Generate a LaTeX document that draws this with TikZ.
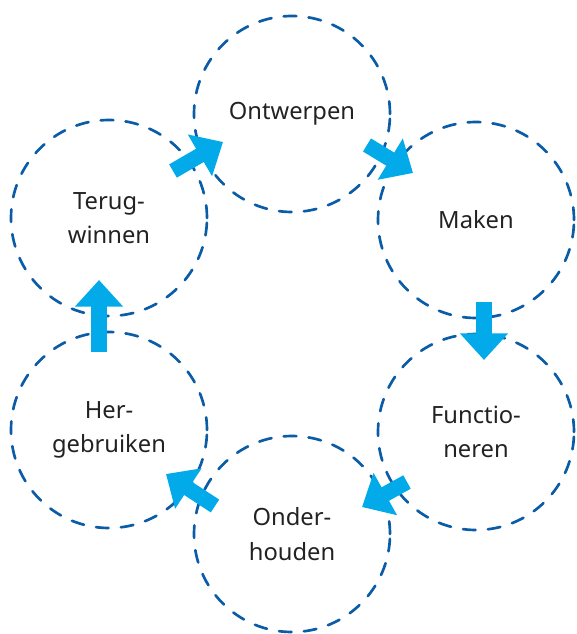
\documentclass[tikz,border=0pt]{standalone}
\usepackage{fontspec}
\setmainfont{Noto Sans}
\usetikzlibrary{arrows.meta,calc}
\definecolor{ringblue}{HTML}{0B5CA6}
\definecolor{flowcyan}{HTML}{02AAE9}
\definecolor{txtgray}{HTML}{222222}
\begin{document}
\begin{tikzpicture}[x=0.75pt,y=-0.75pt,
		stage/.style={circle,draw=ringblue,line width=2pt,line cap=round,
			dash pattern=on 9.5pt off 9.2pt,minimum size=147pt,inner sep=0pt,
			align=center,text=txtgray,font=\fontsize{17.8}{26}\selectfont},
		flow/.style={flowcyan,line width=11.5pt,
			-{Triangle[length=20pt,width=35pt]}}]
	\useasboundingbox (0,0) rectangle (577,634);
	% de kringloop
	\node[stage] (ontw) at (292,114) {Ontwerpen};
	\node[stage] (maken) at (476,220) {Maken};
	\node[stage] (funct) at (476,432) {Functio-\\neren};
	\node[stage] (onder) at (292,534) {Onder-\\houden};
	\node[stage] (herg) at (109,430) {Her-\\gebruiken};
	\node[stage] (terug) at (109,218) {Terug-\\winnen};
	% pijlen
	\draw[flow] ($(terug)+(64,-47)$) -- ($(ontw)+(-69,28)$);
	\draw[flow] ($(ontw)+(75,31)$) -- ($(maken)+(-63,-47)$);
	\draw[flow] ($(maken)+(8,82)$) -- ($(funct)+(8,-72)$);
	\draw[flow] ($(funct)+(-69,50)$) -- ($(onder)+(70,-27)$);
	\draw[flow] ($(onder)+(-77,-28)$) -- ($(herg)+(57,44)$);
	\draw[flow] ($(herg)+(-10,-78)$) -- ($(terug)+(-10,62)$);
\end{tikzpicture}
\end{document}
